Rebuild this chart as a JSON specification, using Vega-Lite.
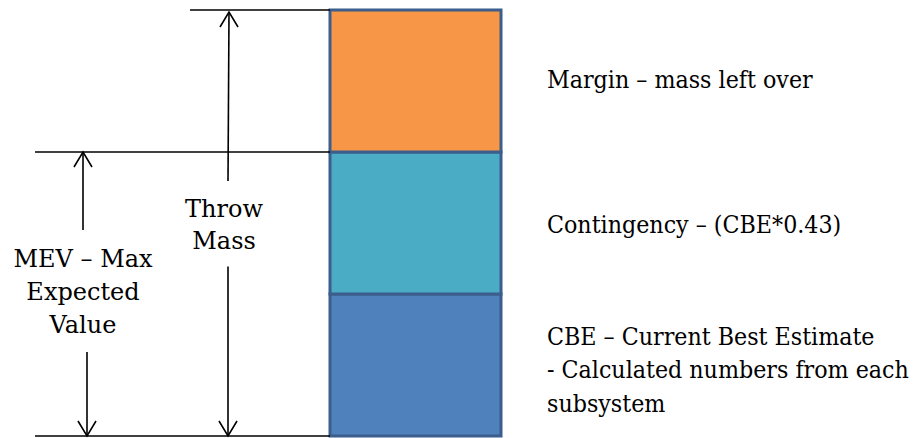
{
  "$schema": "https://vega.github.io/schema/vega-lite/v6.json",
  "width": 914,
  "height": 438,
  "padding": 0,
  "autosize": "none",
  "background": "white",
  "config": {"view": {"stroke": null}},
  "datasets": {
    "segments": [
      {"part": "CBE", "x": 330, "x2": 501, "y": 0, "y2": 1},
      {"part": "Contingency", "x": 330, "x2": 501, "y": 1, "y2": 2},
      {"part": "Margin", "x": 330, "x2": 501, "y": 2, "y2": 3}
    ],
    "rules": [
      {"x": 190, "x2": 330, "y": 3, "y2": 3},
      {"x": 35, "x2": 330, "y": 2, "y2": 2},
      {"x": 35, "x2": 330, "y": 0, "y2": 0},
      {"x": 229, "x2": 228, "y": 2.986, "y2": 1.796},
      {"x": 228, "x2": 228, "y": 1.194, "y2": 0.0},
      {"x": 83, "x2": 83, "y": 2.0, "y2": 1.451},
      {"x": 87, "x2": 87, "y": 0.592, "y2": 0.0}
    ],
    "heads": [
      {"x": 229, "y": 2.986, "dir": "up"},
      {"x": 228, "y": 0.0, "dir": "down"},
      {"x": 83, "y": 2.0, "dir": "up"},
      {"x": 87, "y": 0.0, "dir": "down"}
    ],
    "rightText": [
      {"x": 547, "y": 2.4507, "text": "Margin – mass left over"},
      {"x": 547, "y": 1.4296, "text": "Contingency – (CBE*0.43)"},
      {"x": 547, "y": 0.6408, "text": "CBE – Current Best Estimate"},
      {"x": 547, "y": 0.4085, "text": "- Calculated numbers from each"},
      {"x": 547, "y": 0.169, "text": "subsystem"}
    ],
    "centerText": [
      {"x": 224, "y": 1.542, "text": "Throw"},
      {"x": 224, "y": 1.317, "text": "Mass"},
      {"x": 83, "y": 1.190, "text": "MEV – Max"},
      {"x": 83, "y": 0.9577, "text": "Expected"},
      {"x": 83, "y": 0.7254, "text": "Value"}
    ]
  },
  "layer": [
    {
      "data": {"name": "segments"},
      "mark": {"type": "rect", "stroke": "#3B5E8C", "strokeWidth": 3},
      "encoding": {
        "x": {"field": "x", "type": "quantitative", "scale": {"domain": [0, 914], "nice": false, "zero": false}, "axis": null},
        "x2": {"field": "x2"},
        "y": {"field": "y", "type": "quantitative", "scale": {"domain": [-0.01408, 3.0704], "nice": false, "zero": false}, "axis": null},
        "y2": {"field": "y2"},
        "color": {"field": "part", "type": "nominal", "scale": {"domain": ["CBE", "Contingency", "Margin"], "range": ["#4F81BD", "#4BACC6", "#F79646"]}, "legend": null}
      }
    },
    {
      "data": {"name": "rules"},
      "mark": {"type": "rule", "color": "black", "strokeWidth": 1.6},
      "encoding": {
        "x": {"field": "x", "type": "quantitative"},
        "x2": {"field": "x2"},
        "y": {"field": "y", "type": "quantitative"},
        "y2": {"field": "y2"}
      }
    },
    {
      "data": {"name": "heads"},
      "mark": {"type": "point", "filled": false, "stroke": "black", "strokeWidth": 1.6, "opacity": 1, "size": 324},
      "encoding": {
        "x": {"field": "x", "type": "quantitative"},
        "y": {"field": "y", "type": "quantitative"},
        "shape": {"field": "dir", "type": "nominal", "scale": {"domain": ["up", "down"], "range": ["M-1,1.67L0,0L1,1.67", "M-1,-1.67L0,0L1,-1.67"]}, "legend": null}
      }
    },
    {
      "data": {"name": "rightText"},
      "mark": {"type": "text", "align": "left", "baseline": "alphabetic", "font": "DejaVu Serif Condensed", "fontSize": 24.7, "color": "black"},
      "encoding": {
        "x": {"field": "x", "type": "quantitative"},
        "y": {"field": "y", "type": "quantitative"},
        "text": {"field": "text"}
      }
    },
    {
      "data": {"name": "centerText"},
      "mark": {"type": "text", "align": "center", "baseline": "alphabetic", "font": "DejaVu Serif", "fontSize": 24, "color": "black"},
      "encoding": {
        "x": {"field": "x", "type": "quantitative"},
        "y": {"field": "y", "type": "quantitative"},
        "text": {"field": "text"}
      }
    }
  ]
}
